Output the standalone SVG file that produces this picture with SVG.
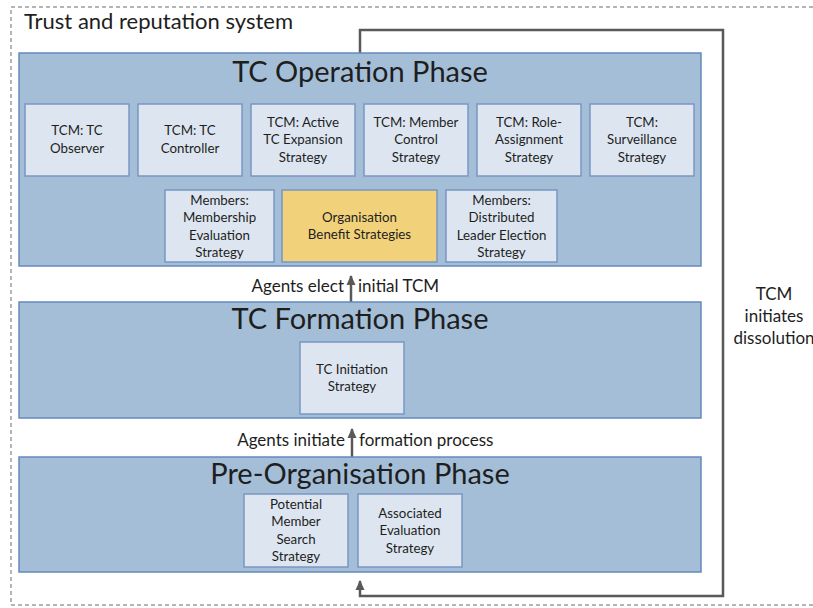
<svg xmlns="http://www.w3.org/2000/svg" width="813" height="608" viewBox="0 0 813 608">
<style>
text{font-family:Lato,"Open Sans","Liberation Sans",sans-serif;fill:#1e1e1e}
.phase{fill:#a4bed8;stroke:#6389bd;stroke-width:1.5}
.box{fill:#dde6f0;stroke:#7a97c2;stroke-width:1.5}
.gold{fill:#f1d27b;stroke:#7a97c2;stroke-width:1.5}
.ptitle{font-size:29px;text-anchor:middle}
.bt{font-size:13.3px;text-anchor:middle}
.lbl{font-size:17px}
.conn{fill:none;stroke:#595959;stroke-width:2.5}
</style>
<defs>
<marker id="ah" viewBox="0 0 10 10" refX="9" refY="5" markerWidth="4" markerHeight="4" orient="auto" markerUnits="strokeWidth">
<path d="M0,0.5 L10,5 L0,9.5 z" fill="#595959"/>
</marker>
</defs>
<rect width="813" height="608" fill="#ffffff"/>
<g id="system">
<path d="M813,7 H11 V605 H813" fill="none" stroke="#6a6a6a" stroke-width="1" stroke-dasharray="4,3"/>
<text x="24" y="29" style="font-size:22px">Trust and reputation system</text>
</g>
<g id="connectors">
<path class="conn" d="M360,53 V30 H723 V596 H360 V581" marker-end="url(#ah)"/>
<path class="conn" d="M351,302 V276" marker-end="url(#ah)"/>
<path class="conn" d="M352,457 V429" marker-end="url(#ah)"/>
<text class="lbl" x="344" y="292" text-anchor="end">Agents elect</text>
<text class="lbl" x="358" y="292">initial TCM</text>
<text class="lbl" x="345" y="446" text-anchor="end">Agents initiate</text>
<text class="lbl" x="359" y="446">formation process</text>
<text class="lbl" x="774" y="300" text-anchor="middle">TCM</text>
<text class="lbl" x="774" y="322" text-anchor="middle">initiates</text>
<text class="lbl" x="774" y="344" text-anchor="middle">dissolution</text>
</g>
<g id="operation">
<rect class="phase" x="19" y="53" width="682" height="213"/>
<text class="ptitle" x="360" y="82">TC Operation Phase</text>
</g>
<g id="observer">
<rect class="box" x="25" y="104" width="104" height="72"/>
<text class="bt" x="77" y="135">TCM: TC</text>
<text class="bt" x="77" y="152.5">Observer</text>
</g>
<g id="controller">
<rect class="box" x="138" y="104" width="104" height="72"/>
<text class="bt" x="190" y="135">TCM: TC</text>
<text class="bt" x="190" y="152.5">Controller</text>
</g>
<g id="expansion">
<rect class="box" x="251" y="104" width="104" height="72"/>
<text class="bt" x="303" y="126.5">TCM: Active</text>
<text class="bt" x="303" y="144">TC Expansion</text>
<text class="bt" x="303" y="161.5">Strategy</text>
</g>
<g id="membercontrol">
<rect class="box" x="364" y="104" width="104" height="72"/>
<text class="bt" x="416" y="126.5">TCM: Member</text>
<text class="bt" x="416" y="144">Control</text>
<text class="bt" x="416" y="161.5">Strategy</text>
</g>
<g id="role">
<rect class="box" x="477" y="104" width="104" height="72"/>
<text class="bt" x="529" y="126.5">TCM: Role-</text>
<text class="bt" x="529" y="144">Assignment</text>
<text class="bt" x="529" y="161.5">Strategy</text>
</g>
<g id="surveillance">
<rect class="box" x="590" y="104" width="104" height="72"/>
<text class="bt" x="642" y="126.5">TCM:</text>
<text class="bt" x="642" y="144">Surveillance</text>
<text class="bt" x="642" y="161.5">Strategy</text>
</g>
<g id="membership">
<rect class="box" x="165" y="190" width="109" height="72"/>
<text class="bt" x="219.5" y="204.5">Members:</text>
<text class="bt" x="219.5" y="222">Membership</text>
<text class="bt" x="219.5" y="239.5">Evaluation</text>
<text class="bt" x="219.5" y="257">Strategy</text>
</g>
<g id="benefit">
<rect class="gold" x="282" y="190" width="155" height="72"/>
<text class="bt" x="359.5" y="221.5">Organisation</text>
<text class="bt" x="359.5" y="239">Benefit Strategies</text>
</g>
<g id="leader">
<rect class="box" x="446" y="190" width="111" height="72"/>
<text class="bt" x="501.5" y="204.5">Members:</text>
<text class="bt" x="501.5" y="222">Distributed</text>
<text class="bt" x="501.5" y="239.5">Leader Election</text>
<text class="bt" x="501.5" y="257">Strategy</text>
</g>
<g id="formation">
<rect class="phase" x="19" y="302" width="682" height="116"/>
<text class="ptitle" x="360" y="329">TC Formation Phase</text>
</g>
<g id="initiation">
<rect class="box" x="300" y="342" width="104" height="72"/>
<text class="bt" x="352" y="373.5">TC Initiation</text>
<text class="bt" x="352" y="391">Strategy</text>
</g>
<g id="preorg">
<rect class="phase" x="19" y="457" width="682" height="115"/>
<text class="ptitle" x="360" y="484">Pre-Organisation Phase</text>
</g>
<g id="search">
<rect class="box" x="244" y="494" width="104" height="73"/>
<text class="bt" x="296" y="508.5">Potential</text>
<text class="bt" x="296" y="526">Member</text>
<text class="bt" x="296" y="543.5">Search</text>
<text class="bt" x="296" y="561">Strategy</text>
</g>
<g id="associated">
<rect class="box" x="358" y="494" width="104" height="73"/>
<text class="bt" x="410" y="517.5">Associated</text>
<text class="bt" x="410" y="535">Evaluation</text>
<text class="bt" x="410" y="552.5">Strategy</text>
</g>
</svg>
